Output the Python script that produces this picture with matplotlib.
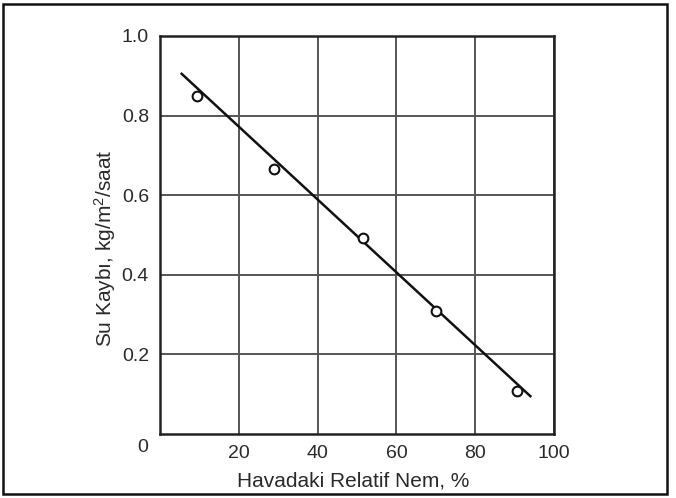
import matplotlib
matplotlib.use("Agg")
import matplotlib.pyplot as plt
from matplotlib.patches import Rectangle

# Ölçülen noktalar (okunan değerler)
nem = [9.5, 29, 51.5, 70, 90.5]
kayip = [0.848, 0.667, 0.492, 0.309, 0.107]
# Uydurulan doğru (uç noktalar)
dogru_x = [5.5, 94]
dogru_y = [0.905, 0.095]

x_ticks = [20, 40, 60, 80, 100]
y_ticks = [0.2, 0.4, 0.6, 0.8, 1.0]

plt.rcParams["font.family"] = ["Liberation Sans", "DejaVu Sans"]
plt.rcParams["mathtext.fontset"] = "custom"
plt.rcParams["mathtext.rm"] = "Liberation Sans"
W, H = 676, 498
fig = plt.figure(figsize=(W / 100, H / 100), dpi=100)
ax = fig.add_axes([160 / W, (H - 434) / H, 394 / W, 398 / H])

ax.set_xlim(0, 100); ax.set_ylim(0, 1.0)
ax.set_xticks(x_ticks); ax.set_yticks(y_ticks)
ax.set_xticklabels([str(v) for v in x_ticks])
ax.set_yticklabels([f"{v:.1f}" for v in y_ticks])
ax.tick_params(length=0, labelsize=14, colors="#2a2a2a", pad=8)
ax.grid(color="#555", lw=1.4)
ax.set_axisbelow(True)
for s in ax.spines.values():
    s.set_color("#222"); s.set_linewidth(1.8)

ax.plot(dogru_x, dogru_y, color="#111", lw=1.8, zorder=3)
ax.plot(nem, kayip, "o", ms=7, mfc="white", mec="#111", mew=1.5, zorder=4)

ax.text(-3, -0.033, "0", ha="right", va="center", fontsize=14, color="#2a2a2a",
        transform=ax.transData)
fig.text(353 / W, 1 - 481 / H, "Havadaki Relatif Nem, %", ha="center", va="center",
         fontsize=15, color="#2a2a2a")
fig.text(105 / W, 1 - 248 / H, r"Su Kaybı, kg/m$\mathrm{^2}$/saat", ha="center",
         va="center", rotation=90, fontsize=15, color="#2a2a2a")

fig.patches.append(Rectangle((3 / W, 4 / H), 664 / W, 490 / H, transform=fig.transFigure,
                             fill=False, ec="#111", lw=1.8))
fig.savefig("out.png", dpi=100)
